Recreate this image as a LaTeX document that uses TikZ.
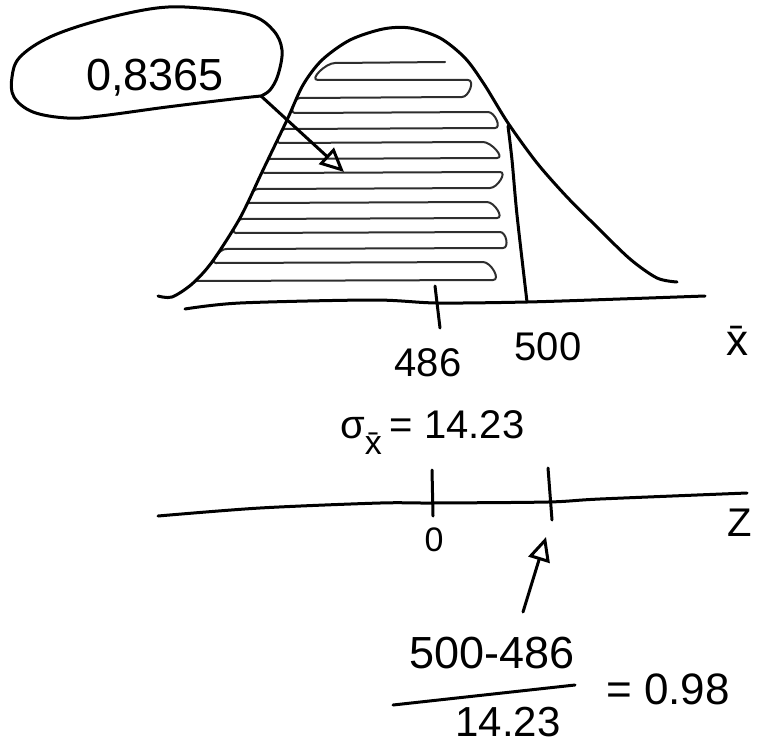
\documentclass[tikz,border=0pt]{standalone}
\usepackage{fontspec}
\setmainfont{Liberation Sans}
\usetikzlibrary{arrows.meta}
\tikzset{
  pen/.style={line width=3pt, line cap=round, line join=round},
  hatch/.style={line width=2pt, line cap=round, line join=round, black!82},
  lbl/.style={font=\fontsize{40}{44}\selectfont, inner sep=0pt},
  big/.style={font=\fontsize{45}{50}\selectfont, inner sep=0pt},
  tipped/.style={-{Triangle[open,length=24pt,width=22pt,line width=3pt]}}
}
\begin{document}
\begin{tikzpicture}[x=1pt,y=-1pt]
\useasboundingbox (0,0) rectangle (767,749);

% ---- hatching under the curve, left of the 500 line
\begin{scope}
  \clip plot[smooth] coordinates {(158,296) (172,297) (192,284) (212,262) (240,218) (263,170) (287,120) (303,85) (322,60) (350,40) (383,29) (410,28) (440,38) (465,58) (484,84) (508,123) (537,163) (567,197) (597,227) (630,259) (657,278) (677,282)} -- (690,310) -- (150,310) -- cycle;
  \draw[hatch] (445,62) -- (335,63)
     to[out=180,in=180] (318,80) -- (468,80)
     to[out=0,in=0] (462,97) -- (300,98)
     to[out=180,in=180] (295,113) -- (488,112)
     to[out=0,in=0] (495,128) -- (285,129)
     to[out=180,in=180] (280,143) -- (483,142)
     to[out=0,in=0] (497,158) -- (270,159)
     to[out=180,in=180] (265,173) -- (500,172)
     to[out=0,in=0] (490,188) -- (258,189)
     to[out=180,in=180] (250,203) -- (487,202)
     to[out=0,in=0] (497,218) -- (242,219)
     to[out=180,in=180] (236,233) -- (500,232)
     to[out=0,in=0] (503,248) -- (226,249)
     to[out=180,in=180] (216,263) -- (483,262)
     to[out=0,in=0] (493,280) -- (196,281);
\end{scope}

% ---- bell curve
\draw[pen] plot[smooth] coordinates {(158,296) (172,297) (192,284) (212,262) (240,218) (263,170) (287,120) (303,85) (322,60) (350,40) (383,29) (410,28) (440,38) (465,58) (484,84) (508,123) (537,163) (567,197) (597,227) (630,259) (657,278) (677,282)};

% ---- x-bar axis, 500 line, 486 tick
\coordinate (v1) at (508,126);
\coordinate (v2) at (527,302);
\draw[pen] plot[smooth] coordinates {(v1) (512,160) (517,215) (v2)};
\draw[pen] plot[smooth] coordinates {(185,309) (240,303) (373,300) (437,303) (527,302) (620,299) (705,296)};
\coordinate (t1) at (435,286);
\coordinate (t2) at (440,328);
\draw[pen] (t1) -- (t2);

\node[lbl] (n486) at (428,363) {486};
\node[lbl] (n500) at (548,347) {500};
\node[lbl, font=\fontsize{44}{48}\selectfont] (xbar) at (737,341) {\={x}};

% ---- callout
\coordinate (pa) at (261,96);
\draw[pen] plot[smooth, tension=0.6] coordinates {(pa) (270,90) (278,75) (282,50) (273,30) (250,15) (200,8) (157,8) (100,20) (50,37) (20,57) (12,77) (14,97) (33,112) (67,118) (100,116) (167,107) (233,99) (pa)};
\node[big] (p) at (155,78) {0,8365};
\coordinate (pb) at (344,172);
\draw[pen,tipped] (pa) -- (pb);

% ---- sigma
\node[lbl, anchor=base west] (sig) at (340,438) {σ\raisebox{-0.42em}{\fontsize{34}{34}\selectfont\={x}}\hspace{0.2em}= 14.23};

% ---- z axis
\draw[pen] plot[smooth] coordinates {(158,516) (260,508) (380,503) (432,503) (548,502) (600,499) (747,493)};
\coordinate (z0a) at (432,470);
\coordinate (z0b) at (433,516);
\coordinate (z1a) at (548,468);
\coordinate (z1b) at (552,520);
\draw[pen] (z0a) -- (z0b);
\draw[pen] (z1a) -- (z1b);
\node[font=\fontsize{34}{38}\selectfont, inner sep=0pt] (n0) at (434,540) {0};
\node[lbl] (nz) at (740,523) {Z};

% ---- arrow from fraction to z tick
\coordinate (za) at (523,612);
\coordinate (zb) at (546,537);
\draw[pen,tipped] (za) -- (zb);

% ---- fraction
\node[big] (num) at (492,653) {500-486};
\coordinate (fl) at (393,705);
\coordinate (fr) at (575,685);
\draw[pen] (fl) -- (fr);
\node[lbl, font=\fontsize{42}{46}\selectfont] (den) at (508,722) {14.23};
\node[lbl, font=\fontsize{44}{48}\selectfont] (res) at (668,689) {= 0.98};
\end{tikzpicture}
\end{document}
